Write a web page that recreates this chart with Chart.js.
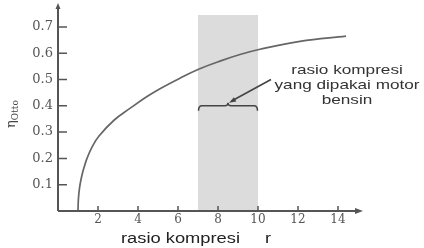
<!DOCTYPE html>
<html><head><meta charset="utf-8">
<script src="https://cdn.jsdelivr.net/npm/chart.js@4/dist/chart.umd.min.js"></script>
<style>html,body{margin:0;padding:0;background:#fff}#wrap{width:424px;height:248px}</style>
</head><body><div id="wrap"><canvas id="c" width="424" height="248"></canvas></div>
<script>
// ---- data ----
const compressionRatio = [1, 1.02, 1.08, 1.18, 1.3, 1.45, 1.7, 2.05, 2.8, 3.6, 4.45, 5.1, 6.1, 7, 8.1, 9.1, 10.1, 12.1, 14.4];
const efficiency       = [0, 0.045, 0.09, 0.13, 0.165, 0.20, 0.243, 0.285, 0.345, 0.39, 0.435, 0.465, 0.505, 0.538, 0.57, 0.595, 0.615, 0.645, 0.665];
const xTickValues = [2, 4, 6, 8, 10, 12, 14];
const yTickValues = [0.1, 0.2, 0.3, 0.4, 0.5, 0.6, 0.7];
const gasolineRange = [7, 10];
const gasolineRangeTop = 0.745;
const braceLevel = 0.40;
const noteLines = ["rasio kompresi", "yang dipakai motor", "bensin"];
const xTitle = "rasio kompresi";
const xSymbol = "r";
const yLabelMain = "η";
const yLabelSub = "Otto";

const AX = '#555';
function stretchText(ctx, txt, x, y, sx, align) {
  ctx.save();
  ctx.translate(x, y);
  ctx.scale(sx, 1);
  ctx.textAlign = align || 'left';
  ctx.fillText(txt, 0, 0);
  ctx.restore();
}

const decor = {
  id: 'decor',
  beforeDatasetsDraw(chart) {
    const {ctx, scales: {x, y}} = chart;
    ctx.save();
    ctx.fillStyle = '#dcdcdc';
    const x0 = x.getPixelForValue(gasolineRange[0]), x1 = x.getPixelForValue(gasolineRange[1]);
    const yt = y.getPixelForValue(gasolineRangeTop), yb = y.getPixelForValue(0);
    ctx.fillRect(x0, yt, x1 - x0, yb - yt);
    ctx.restore();
  },
  afterDraw(chart) {
    const {ctx, chartArea: ca, scales: {x, y}} = chart;
    ctx.save();
    // axes
    ctx.strokeStyle = AX; ctx.fillStyle = AX; ctx.lineWidth = 2;
    const ox = x.getPixelForValue(0), oy = y.getPixelForValue(0);
    ctx.beginPath();
    ctx.moveTo(ox, oy); ctx.lineTo(ca.right - 4, oy);
    ctx.moveTo(ox, oy); ctx.lineTo(ox, ca.top + 3);
    ctx.stroke();
    // arrowheads
    ctx.beginPath();
    ctx.moveTo(ca.right + 1, oy); ctx.lineTo(ca.right - 7, oy - 3); ctx.lineTo(ca.right - 7, oy + 3); ctx.closePath(); ctx.fill();
    ctx.beginPath();
    ctx.moveTo(ox, ca.top - 1); ctx.lineTo(ox - 2.5, ca.top + 5); ctx.lineTo(ox + 2.5, ca.top + 5); ctx.closePath(); ctx.fill();
    // tick marks
    ctx.lineWidth = 1.5;
    ctx.beginPath();
    xTickValues.forEach(v => { const px = x.getPixelForValue(v); ctx.moveTo(px, oy); ctx.lineTo(px, oy - 5); });
    yTickValues.forEach(v => { const py = y.getPixelForValue(v); ctx.moveTo(ox, py); ctx.lineTo(ox + 9, py); });
    ctx.stroke();

    // x title
    ctx.fillStyle = '#222';
    ctx.font = '14px "Liberation Sans", Arial, sans-serif';
    ctx.textBaseline = 'alphabetic';
    const w = ctx.measureText(xTitle).width;
    stretchText(ctx, xTitle, 121, 243, 119 / w, 'left');
    stretchText(ctx, xSymbol, 268, 243, 1.3, 'center');

    // y label (rotated)
    ctx.save();
    ctx.translate(15, 128);
    ctx.rotate(-Math.PI / 2);
    ctx.fillStyle = '#444';
    ctx.font = '13px "DejaVu Serif", serif';
    ctx.textAlign = 'left';
    ctx.fillText(yLabelMain, 0, 0);
    const mw = ctx.measureText(yLabelMain).width;
    ctx.font = '9px "DejaVu Serif", serif';
    ctx.fillText(yLabelSub, mw, 3);
    ctx.restore();

    // brace
    const bx0 = x.getPixelForValue(gasolineRange[0]), bx1 = x.getPixelForValue(gasolineRange[1]);
    const bm = (bx0 + bx1) / 2;
    const by = y.getPixelForValue(braceLevel);
    ctx.strokeStyle = '#444'; ctx.lineWidth = 1.5;
    ctx.beginPath();
    ctx.moveTo(bx0 + 0.5, by + 5);
    ctx.quadraticCurveTo(bx0 + 0.5, by, bx0 + 4, by);
    ctx.lineTo(bm - 3, by);
    ctx.quadraticCurveTo(bm, by, bm, by - 3);
    ctx.quadraticCurveTo(bm, by, bm + 3, by);
    ctx.lineTo(bx1 - 4, by);
    ctx.quadraticCurveTo(bx1 - 0.5, by, bx1 - 0.5, by + 5);
    ctx.stroke();
    // pointer arrow
    const ax0 = x.getPixelForValue(10.65), ay0 = y.getPixelForValue(0.50);
    const ax1 = bm + 1, ay1 = by - 3;
    ctx.lineWidth = 1.6;
    ctx.beginPath(); ctx.moveTo(ax0, ay0); ctx.lineTo(ax1 + 4, ay1 - 2.5); ctx.stroke();
    const ang = Math.atan2(ay1 - ay0, ax1 - ax0);
    ctx.fillStyle = '#444';
    ctx.beginPath();
    ctx.moveTo(ax1, ay1);
    ctx.lineTo(ax1 - 7 * Math.cos(ang) + 2.5 * Math.sin(ang), ay1 - 7 * Math.sin(ang) - 2.5 * Math.cos(ang));
    ctx.lineTo(ax1 - 7 * Math.cos(ang) - 2.5 * Math.sin(ang), ay1 - 7 * Math.sin(ang) + 2.5 * Math.cos(ang));
    ctx.closePath(); ctx.fill();

    // note
    ctx.fillStyle = '#333';
    ctx.font = '13px "Liberation Sans", Arial, sans-serif';
    const w2 = ctx.measureText(noteLines[1]).width;
    const sx = 145 / w2;
    const nx = 347;
    const ny = [74, 89, 104];
    noteLines.forEach((t, i) => stretchText(ctx, t, nx, ny[i], sx, 'center'));
    ctx.restore();
  }
};

new Chart(document.getElementById('c'), {
  type: 'line',
  data: {
    datasets: [{
      data: compressionRatio.map((r, i) => ({x: r, y: efficiency[i]})),
      borderColor: '#666',
      borderWidth: 1.7,
      pointRadius: 0,
      fill: false,
      tension: 0.4
    }]
  },
  options: {
    responsive: false,
    animation: false,
    devicePixelRatio: 1,
    layout: {padding: {left: 0, top: 4, right: 62, bottom: 0}},
    plugins: {legend: {display: false}, tooltip: {enabled: false}},
    scales: {
      x: {
        type: 'linear', min: 0, max: 15.2,
        afterFit: s => { s.height = 37; s.paddingLeft = 0; s.paddingRight = 0; },
        afterBuildTicks: s => { s.ticks = xTickValues.map(v => ({value: v})); },
        grid: {display: true, drawOnChartArea: false, drawTicks: false, color: 'rgba(0,0,0,0)'},
        border: {display: false},
        ticks: {padding: 2, color: '#555', font: {family: '"DejaVu Serif", serif', size: 12}, autoSkip: false, maxRotation: 0,
                callback: v => String(v)}
      },
      y: {
        type: 'linear', min: 0, max: 0.787,
        afterFit: s => { s.width = 58; s.paddingTop = 0; s.paddingBottom = 0; },
        afterBuildTicks: s => { s.ticks = yTickValues.map(v => ({value: v})); },
        grid: {display: true, drawOnChartArea: false, drawTicks: false, color: 'rgba(0,0,0,0)'},
        border: {display: false},
        ticks: {padding: 5, color: '#555', font: {family: '"DejaVu Serif", serif', size: 13}, autoSkip: false,
                callback: v => v.toFixed(1)}
      }
    }
  },
  plugins: [decor]
});
</script>
</body></html>
